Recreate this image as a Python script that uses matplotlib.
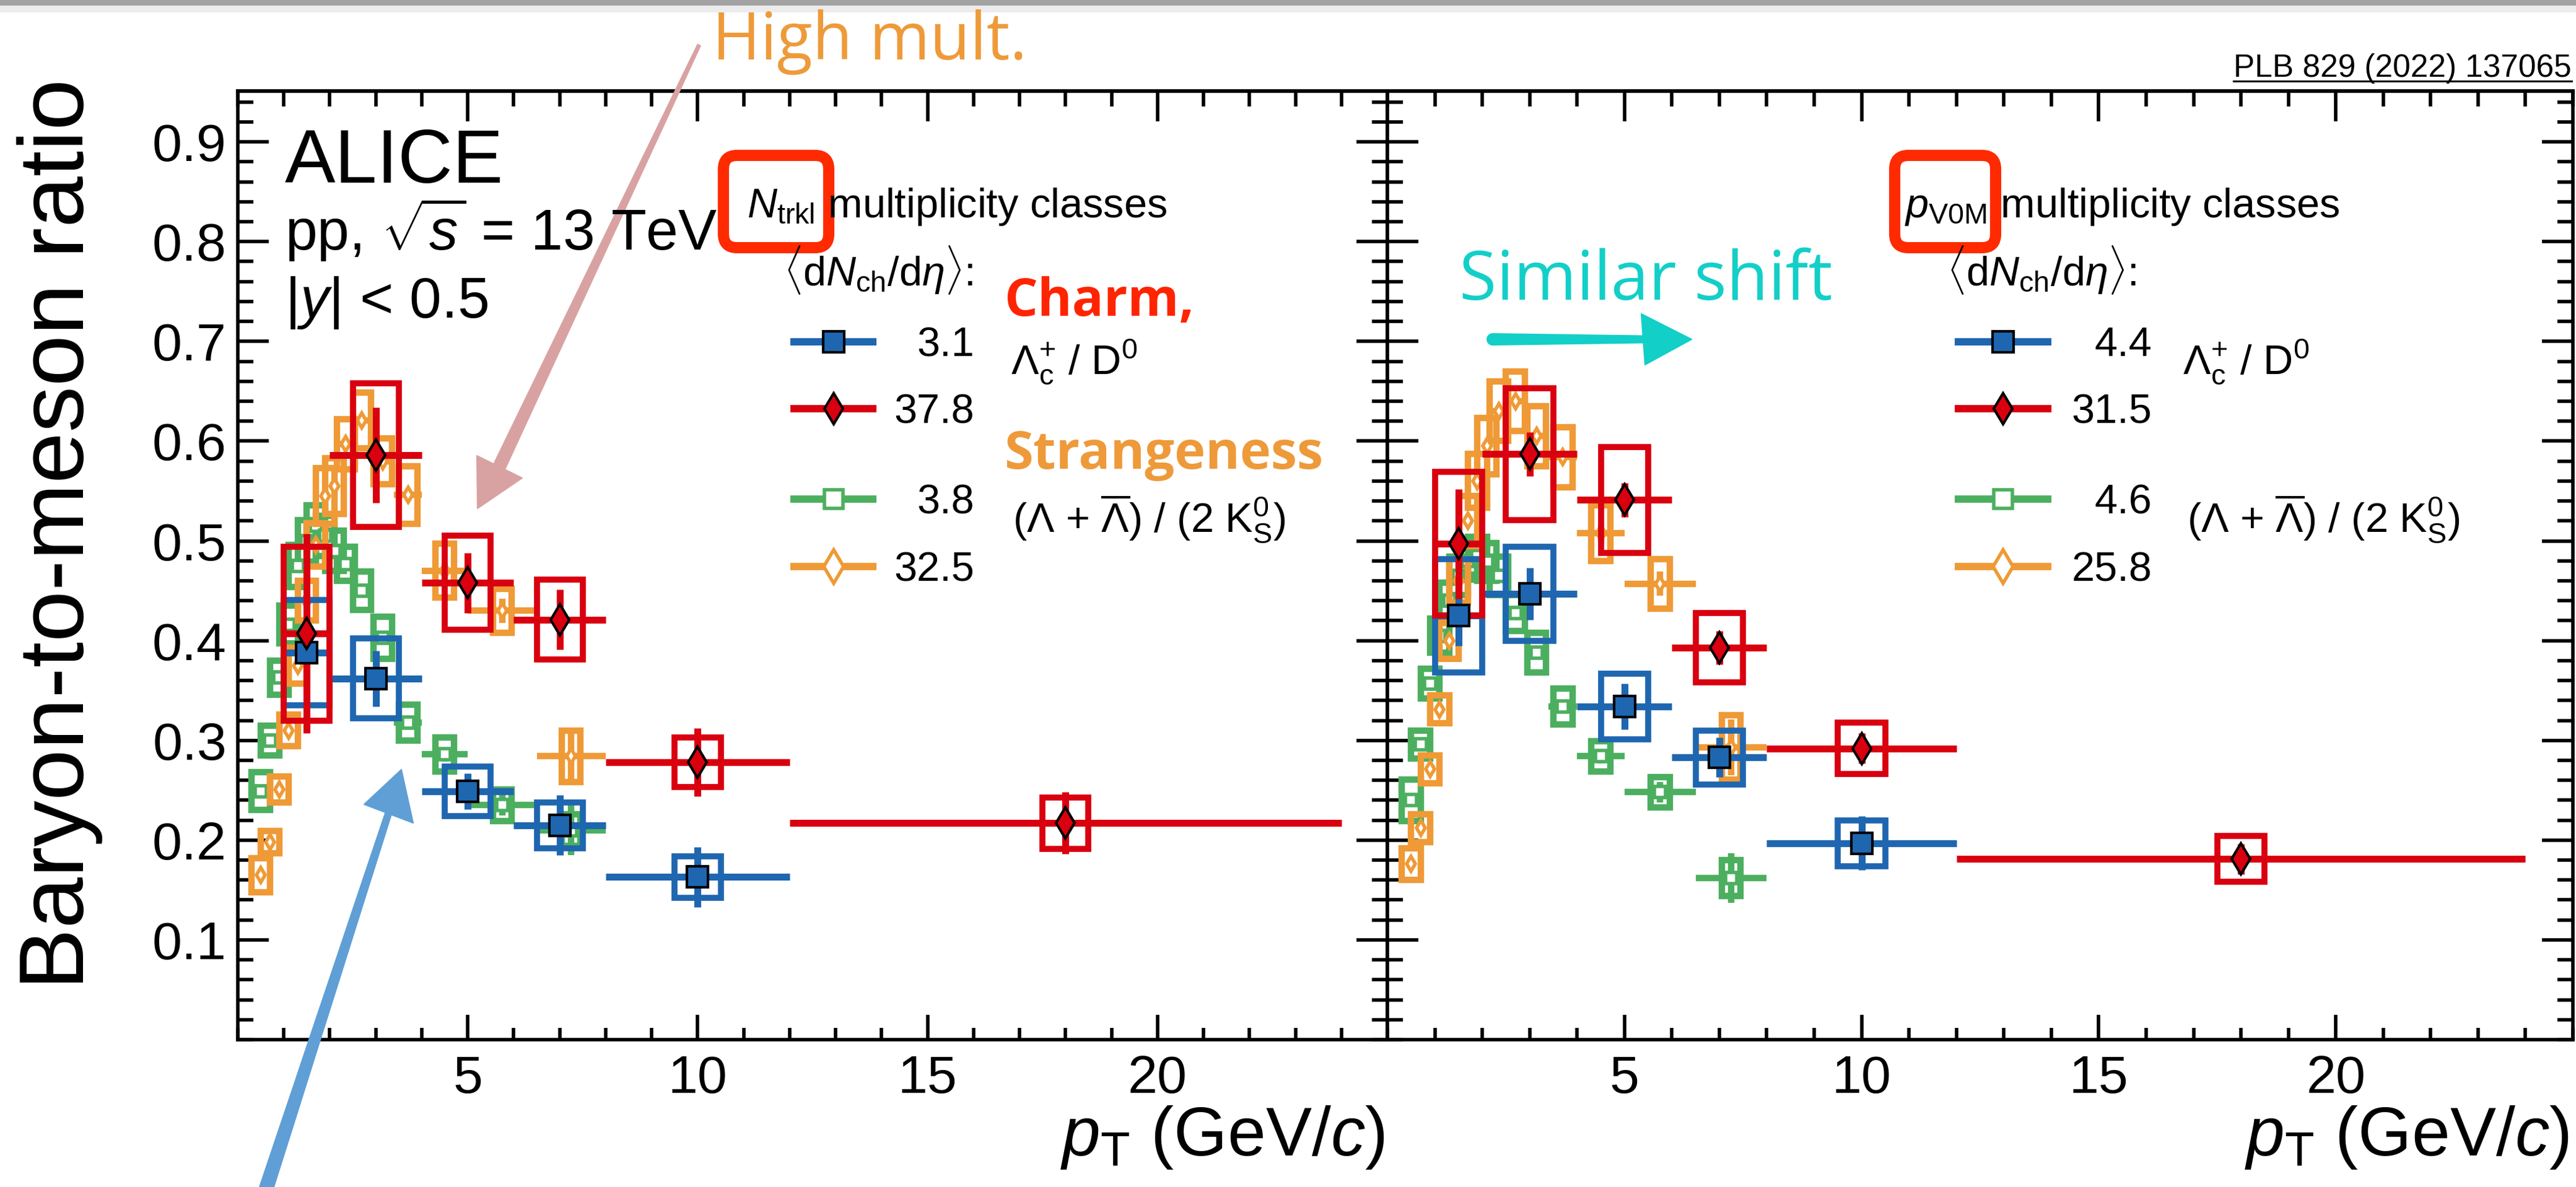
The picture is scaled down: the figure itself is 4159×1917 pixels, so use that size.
import numpy as np
import matplotlib
matplotlib.use("Agg")
import matplotlib.pyplot as plt
from matplotlib.patches import Rectangle, Polygon, FancyBboxPatch, Circle
from matplotlib.lines import Line2D
from matplotlib.ticker import MultipleLocator, FixedLocator, FixedFormatter
from matplotlib.transforms import IdentityTransform

# ---------------- data ----------------
# Lambda_c+ / D0 (charm): pT bins
charm_pt = [1.5, 3.0, 5.0, 7.0, 10.0, 18.0]
charm_hw = [0.5, 1.0, 1.0, 1.0, 2.0, 6.0]

# N_trkl multiplicity classes
trkl_low_val = [0.388, 0.362, 0.249, 0.215, 0.163]
trkl_low_stat = [0.040, 0.028, 0.018, 0.030, 0.030]
trkl_low_sys = [0.053, 0.040, 0.025, 0.023, 0.021]
trkl_high_val = [0.407, 0.586, 0.458, 0.421, 0.278, 0.217]
trkl_high_stat = [0.100, 0.048, 0.030, 0.030, 0.034, 0.031]
trkl_high_sys = [0.087, 0.072, 0.047, 0.040, 0.025, 0.026]

# p_V0M multiplicity classes
v0m_low_val = [0.425, 0.447, 0.334, 0.283, 0.197]
v0m_low_stat = [0.030, 0.026, 0.023, 0.020, 0.027]
v0m_low_sys = [0.057, 0.047, 0.033, 0.027, 0.023]
v0m_high_val = [0.497, 0.587, 0.541, 0.393, 0.292, 0.181]
v0m_high_stat = [0.055, 0.022, 0.017, 0.017, 0.015, 0.015]
v0m_high_sys = [0.072, 0.066, 0.053, 0.035, 0.026, 0.023]

# (Lambda + anti-Lambda) / (2 K0S) (strangeness): pT bins
str_pt = [0.5, 0.7, 0.9, 1.1, 1.3, 1.5, 1.7, 1.9, 2.1, 2.35, 2.7, 3.15, 3.7, 4.5, 5.75, 7.25]
str_hw = [0.1, 0.1, 0.1, 0.1, 0.1, 0.1, 0.1, 0.1, 0.1, 0.15, 0.2, 0.25, 0.3, 0.5, 0.75, 0.75]

trkl_str_low_val = [0.249, 0.300, 0.363, 0.416, 0.475, 0.500, 0.515, 0.505, 0.490, 0.477, 0.450, 0.403, 0.318, 0.286, 0.235, 0.210]
trkl_str_low_stat = [0.003, 0.003, 0.003, 0.003, 0.003, 0.003, 0.003, 0.003, 0.003, 0.003, 0.004, 0.005, 0.006, 0.007, 0.010, 0.025]
trkl_str_low_sys = [0.019, 0.015, 0.017, 0.019, 0.021, 0.021, 0.021, 0.020, 0.020, 0.017, 0.019, 0.021, 0.018, 0.017, 0.016, 0.016]
trkl_str_high_val = [0.165, 0.198, 0.251, 0.310, 0.375, 0.440, 0.496, 0.545, 0.555, 0.597, 0.621, 0.580, 0.546, 0.470, 0.430, 0.284]
trkl_str_high_stat = [0.003, 0.003, 0.003, 0.003, 0.003, 0.003, 0.003, 0.003, 0.003, 0.004, 0.004, 0.005, 0.006, 0.008, 0.012, 0.028]
trkl_str_high_sys = [0.017, 0.011, 0.013, 0.016, 0.018, 0.020, 0.022, 0.028, 0.028, 0.025, 0.028, 0.023, 0.029, 0.027, 0.022, 0.026]

v0m_str_low_val = [0.240, 0.296, 0.357, 0.405, 0.440, 0.465, 0.480, 0.485, 0.479, 0.465, 0.428, 0.388, 0.334, 0.284, 0.248, 0.162]
v0m_str_low_stat = [0.003, 0.003, 0.003, 0.003, 0.003, 0.003, 0.003, 0.003, 0.003, 0.003, 0.004, 0.005, 0.006, 0.007, 0.010, 0.025]
v0m_str_low_sys = [0.021, 0.014, 0.015, 0.017, 0.018, 0.019, 0.019, 0.019, 0.019, 0.019, 0.018, 0.020, 0.018, 0.015, 0.015, 0.018]
v0m_str_high_val = [0.176, 0.212, 0.271, 0.331, 0.400, 0.460, 0.520, 0.560, 0.595, 0.630, 0.640, 0.605, 0.584, 0.508, 0.457, 0.293]
v0m_str_high_stat = [0.003, 0.003, 0.003, 0.003, 0.003, 0.003, 0.003, 0.003, 0.003, 0.004, 0.004, 0.005, 0.006, 0.008, 0.012, 0.028]
v0m_str_high_sys = [0.016, 0.014, 0.014, 0.014, 0.018, 0.022, 0.025, 0.027, 0.028, 0.030, 0.030, 0.030, 0.030, 0.028, 0.025, 0.032]

x_major = [5, 10, 15, 20]
x_major_labels = ["5", "10", "15", "20"]
y_major = [0.1, 0.2, 0.3, 0.4, 0.5, 0.6, 0.7, 0.8, 0.9]
y_major_labels = ["0.1", "0.2", "0.3", "0.4", "0.5", "0.6", "0.7", "0.8", "0.9"]

trkl_classes = ["3.1", "37.8", "3.8", "32.5"]
v0m_classes = ["4.4", "31.5", "4.6", "25.8"]

# ---------------- style ----------------
BLUE = "#1f66b0"
RED = "#d9000f"
GREEN = "#4caf5f"
ORANGE = "#ef9a36"

plt.rcParams["font.family"] = ["Liberation Sans", "DejaVu Sans"]
plt.rcParams["mathtext.fontset"] = "custom"
plt.rcParams["mathtext.rm"] = "Liberation Sans"
plt.rcParams["mathtext.it"] = "Liberation Sans:italic"
plt.rcParams["mathtext.bf"] = "Liberation Sans:bold"

W, H, DPI = 4159, 1917, 100
fig = plt.figure(figsize=(W / DPI, H / DPI), dpi=DPI)
PX = IdentityTransform()


def py(y):
    return H - y


def ftext(x, y, s, **kw):
    return fig.text(x, py(y), s, transform=PX, **kw)


top_px, bot_px = 147, 1679
axL = fig.add_axes([384 / W, 1 - bot_px / H, (2240 - 384) / W, (bot_px - top_px) / H])
axR = fig.add_axes([2240 / W, 1 - bot_px / H, (4154 - 2240) / W, (bot_px - top_px) / H])

for ax in (axL, axR):
    ax.set_xlim(0, 25)
    ax.set_ylim(0.0, 0.951)
    ax.xaxis.set_major_locator(FixedLocator(x_major))
    ax.xaxis.set_major_formatter(FixedFormatter(x_major_labels))
    ax.xaxis.set_minor_locator(MultipleLocator(1))
    ax.yaxis.set_major_locator(FixedLocator(y_major))
    ax.yaxis.set_major_formatter(FixedFormatter(y_major_labels))
    ax.yaxis.set_minor_locator(MultipleLocator(0.02))
    ax.tick_params(which="both", direction="in", width=4, top=False, right=True)
    ax.tick_params(axis="x", which="major", length=29, pad=17, labelsize=62)
    ax.tick_params(axis="x", which="minor", length=14)
    ax.tick_params(axis="y", which="major", length=36, pad=13, labelsize=62)
    ax.tick_params(axis="y", which="minor", length=18)
    for s in ax.spines.values():
        s.set_linewidth(4)
    sec = ax.secondary_xaxis("top")
    sec.xaxis.set_major_locator(FixedLocator(x_major))
    sec.xaxis.set_minor_locator(MultipleLocator(1))
    sec.tick_params(which="both", direction="in", width=4, labeltop=False)
    sec.tick_params(which="major", length=35)
    sec.tick_params(which="minor", length=18)
    sec.spines["top"].set_linewidth(4)

axR.tick_params(axis="y", labelleft=False)


def draw_charm(ax, val, stat, sys, color, marker, ms, z):
    n = len(val)
    pt, hw = charm_pt[:n], charm_hw[:n]
    for p, v, s in zip(pt, val, sys):
        ax.add_patch(Rectangle((p - 0.5, v - s), 1.0, 2 * s, fill=False, ec=color,
                               lw=7, zorder=z, joinstyle="miter"))
    ax.errorbar(pt, val, xerr=hw, yerr=stat, fmt="none", ecolor=color,
                elinewidth=8, capsize=0, zorder=z)
    ax.plot(pt, val, ls="none", marker=marker, ms=ms, mfc=color, mec="black",
            mew=3, zorder=z + 5)


def draw_strange(ax, val, stat, sys, color, marker, ms, z):
    for p, v, s in zip(str_pt, val, sys):
        ax.add_patch(Rectangle((p - 0.2, v - s), 0.4, 2 * s, fill=False, ec=color,
                               lw=7.5, zorder=z, joinstyle="miter"))
    ax.errorbar(str_pt, val, xerr=str_hw, yerr=stat, fmt="none", ecolor=color,
                elinewidth=7.5, capsize=0, zorder=z)
    ax.plot(str_pt, val, ls="none", marker=marker, ms=ms, mfc="white", mec=color,
            mew=4, zorder=z + 0.5)


draw_strange(axL, trkl_str_low_val, trkl_str_low_stat, trkl_str_low_sys, GREEN, "s", 13, 3)
draw_strange(axL, trkl_str_high_val, trkl_str_high_stat, trkl_str_high_sys, ORANGE, "d", 12, 4)
draw_charm(axL, trkl_low_val, trkl_low_stat, trkl_low_sys, BLUE, "s", 24, 5)
draw_charm(axL, trkl_high_val, trkl_high_stat, trkl_high_sys, RED, "d", 25, 6)

draw_strange(axR, v0m_str_low_val, v0m_str_low_stat, v0m_str_low_sys, GREEN, "s", 13, 3)
draw_strange(axR, v0m_str_high_val, v0m_str_high_stat, v0m_str_high_sys, ORANGE, "d", 12, 4)
draw_charm(axR, v0m_low_val, v0m_low_stat, v0m_low_sys, BLUE, "s", 24, 5)
draw_charm(axR, v0m_high_val, v0m_high_stat, v0m_high_sys, RED, "d", 25, 6)

# ---------------- axis titles ----------------
fig.text(97, py(862), "Baryon-to-meson ratio", transform=PX, rotation=90,
         ha="center", va="center", fontsize=107)
for xr in (2236, 4148):
    ftext(xr, 1866, r"$p_{\rm T}$ (GeV/$c$)", ha="right", va="baseline", fontsize=80)

# ---------------- header text ----------------
ftext(460, 295, "ALICE", fontsize=88, va="baseline")
ftext(460, 404, r"pp, $\sqrt{s}$ = 13 TeV", fontsize=67, va="baseline")
ftext(460, 513, r"$|y|$ < 0.5", fontsize=67, va="baseline")

# ---------------- legends ----------------
LEG_FS = 48
rows = [552, 660, 806, 915]
styles = [
    dict(color=BLUE, marker="s", ms=24, mfc=BLUE, mec="black", mew=3),
    dict(color=RED, marker="d", ms=25, mfc=RED, mec="black", mew=3),
    dict(color=GREEN, marker="s", ms=22, mfc="white", mec=GREEN, mew=4),
    dict(color=ORANGE, marker="d", ms=27, mfc="white", mec=ORANGE, mew=4),
]


def legend_block(x0, x1, xnum, xtitle, title, xdn, names, xlc, xls):
    xm = 0.5 * (x0 + x1)
    ftext(xtitle, 351, title, fontsize=LEG_FS, va="baseline")
    ftext(xdn, 461, r"$\langle{\rm d}N_{\rm ch}/{\rm d}\eta\rangle$:", fontsize=LEG_FS, va="baseline")
    for y, st, name in zip(rows, styles, names):
        fig.add_artist(Line2D([x0, x1], [py(y), py(y)], transform=PX, color=st["color"],
                              lw=8.5, solid_capstyle="butt"))
        fig.add_artist(Line2D([xm], [py(y)], transform=PX, ls="none", marker=st["marker"],
                              ms=st["ms"], mfc=st["mfc"], mec=st["mec"], mew=st["mew"]))
        ftext(xnum, y + 23, name, fontsize=LEG_FS, ha="right", va="baseline")
    ftext(xlc, 604, r"$\Lambda_{\rm c}^{+}$ / D$^{0}$", fontsize=LEG_FS, va="baseline")
    ftext(xls, 859, r"($\Lambda$ + $\overline{\Lambda}$) / (2 $\rm K^{0}_{S}$)", fontsize=LEG_FS, va="baseline")


legend_block(1276, 1415, 1573, 1206, r"$N_{\rm trkl}$ multiplicity classes", 1265,
             trkl_classes, 1632, 1635)
legend_block(3156, 3312, 3474, 3075, r"$p_{\rm V0M}$ multiplicity classes", 3143,
             v0m_classes, 3524, 3531)

# ---------------- reference tag ----------------
tag = ftext(4152, 124, "PLB 829 (2022) 137065", fontsize=37, ha="right", va="baseline")
fig.canvas.draw()
bb = tag.get_window_extent(fig.canvas.get_renderer())
fig.add_artist(Line2D([bb.x0, bb.x1], [py(131), py(131)], transform=PX, color="black", lw=2.2))

# ---------------- hand-drawn annotations ----------------
ANNO = "Open Sans"
ftext(1150, 96, "High mult.", fontsize=76, color="#ee9a3a", va="baseline", family=ANNO)
ftext(1621, 510, "Charm,", fontsize=61, color="#ff2400", va="baseline", family=ANNO, weight="bold")
ftext(1621, 757, "Strangeness", fontsize=61, color="#ee9a3a", va="baseline", family=ANNO, weight="bold")
ftext(2356, 484, "Similar shift", fontsize=79, color="#12cfc8", va="baseline", family=ANNO)

for x0, x1 in ((1168, 1338), (3059, 3222)):
    fig.add_artist(FancyBboxPatch((x0, py(400)), x1 - x0, 149,
                                  boxstyle="round,pad=0,rounding_size=22", transform=PX,
                                  fill=False, ec="#ff2a00", lw=13))


def tapered(p0, w0, p1, w1):
    p0 = np.array(p0, float)
    p1 = np.array(p1, float)
    d = p1 - p0
    d /= np.hypot(*d)
    n = np.array([-d[1], d[0]])
    pts = [p0 + n * w0 / 2, p1 + n * w1 / 2, p1 - n * w1 / 2, p0 - n * w0 / 2]
    return [(x, py(y)) for x, y in pts]


def arrow(shaft, head, color):
    fig.add_artist(Polygon(tapered(*shaft), closed=True, transform=PX, fc=color, ec="none"))
    fig.add_artist(Polygon([(x, py(y)) for x, y in head], closed=True, transform=PX,
                           fc=color, ec=color, lw=1.5, joinstyle="round"))


arrow(((1129, 72), 7, (806, 754), 22), [(770, 736), (843, 772), (771, 821)], "#d9a2a2")
arrow(((428, 1925), 24, (627, 1314), 12), [(648, 1243), (588, 1299), (667, 1329)], "#5f9fd6")
arrow(((2410, 548), 20, (2655, 548), 13), [(2650, 507), (2656, 589), (2731, 548)], "#12cfc8")
fig.add_artist(Circle((2410, py(548)), 10, transform=PX, fc="#12cfc8", ec="none"))

# scanned top edge
fig.add_artist(Rectangle((0, py(20)), W, 11, transform=PX, fc="#ececec", ec="none"))
fig.add_artist(Rectangle((0, py(9)), W, 9, transform=PX, fc="#a3a3a3", ec="none"))

fig.savefig("out.png", dpi=DPI)
